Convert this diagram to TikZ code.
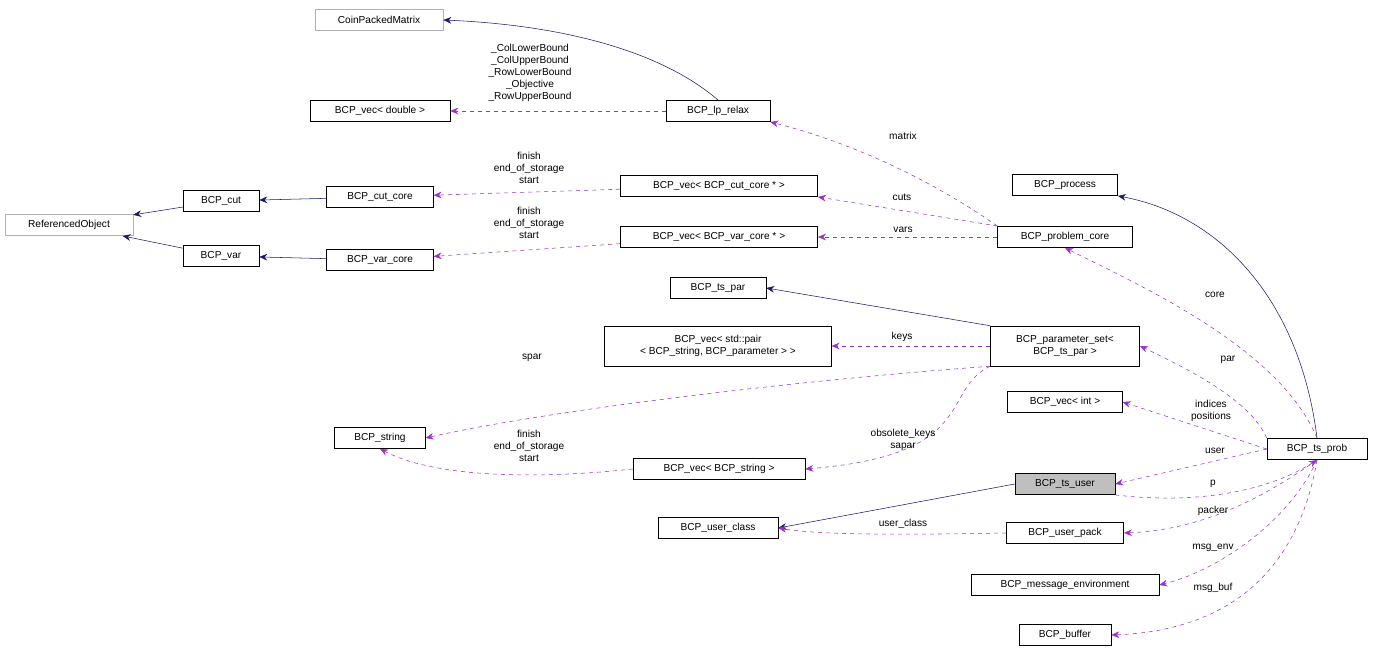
\documentclass[tikz,border=0pt]{standalone}
\usepackage{fontspec}
\setmainfont{Liberation Sans}
\usetikzlibrary{arrows.meta}
\definecolor{navyedge}{RGB}{25,25,112}
\definecolor{orchidedge}{RGB}{153,50,204}
\begin{document}
\begin{tikzpicture}
        [x=0.75pt, y=-0.75pt,
        every node/.style={font=\fontsize{7.6}{9}\selectfont},
        cls/.style={draw=black, fill=white, inner sep=2pt, minimum height=16pt, align=center},
        ext/.style={cls, draw=gray!60},
        cur/.style={cls, fill=gray!50},
        inh/.style={-{Stealth[length=6pt,width=5pt]}, navyedge},
        use/.style={-{Stealth[length=6pt,width=5pt]}, orchidedge, dashed},
        lbl/.style={align=center, inner sep=0pt}]
        \useasboundingbox (0,0) rectangle (1373,655);
        \node (CPM) at (379,20) [ext, minimum width=96pt] {CoinPackedMatrix};
        \node (VD) at (380,111) [cls, minimum width=105pt] {BCP\_vec< double >};
        \node (LP) at (718,111) [cls, minimum width=78pt] {BCP\_lp\_relax};
        \node (RO) at (69,225) [ext, minimum width=96pt] {ReferencedObject};
        \node (CUT) at (221,201) [cls, minimum width=57pt] {BCP\_cut};
        \node (VAR) at (221,256) [cls, minimum width=57pt] {BCP\_var};
        \node (CC) at (380,197) [cls, minimum width=80pt] {BCP\_cut\_core};
        \node (VC) at (380,260) [cls, minimum width=80pt] {BCP\_var\_core};
        \node (VCC) at (719,186) [cls, minimum width=148pt] {BCP\_vec< BCP\_cut\_core * >};
        \node (VVC) at (719,237) [cls, minimum width=148pt] {BCP\_vec< BCP\_var\_core * >};
        \node (PROC) at (1065,185) [cls, minimum width=79pt] {BCP\_process};
        \node (PC) at (1065,237) [cls, minimum width=101pt] {BCP\_problem\_core};
        \node (TP) at (718,288) [cls, minimum width=72pt] {BCP\_ts\_par};
        \node (VP) at (718,346) [cls, minimum width=170pt, minimum height=30pt] {BCP\_vec< std::pair\\< BCP\_string, BCP\_parameter > >};
        \node (PS) at (1065,346) [cls, minimum width=112pt, minimum height=30pt] {BCP\_parameter\_set<\\BCP\_ts\_par >};
        \node (VI) at (1065,402) [cls, minimum width=86pt] {BCP\_vec< int >};
        \node (STR) at (380,438) [cls, minimum width=68pt] {BCP\_string};
        \node (VS) at (719,469) [cls, minimum width=129pt] {BCP\_vec< BCP\_string >};
        \node (TU) at (1065,484) [cur, minimum width=75pt] {BCP\_ts\_user};
        \node (PROB) at (1317,449) [cls, minimum width=75pt] {BCP\_ts\_prob};
        \node (UC) at (718,528) [cls, minimum width=90pt] {BCP\_user\_class};
        \node (UP) at (1065,533) [cls, minimum width=88pt] {BCP\_user\_pack};
        \node (ME) at (1065,585) [cls, minimum width=141pt] {BCP\_message\_environment};
        \node (BUF) at (1065,635) [cls, minimum width=69pt] {BCP\_buffer};
        % inheritance / ownership
        \draw[inh] (LP.north) .. controls (660,50) and (560,25) .. (CPM.east);
        \draw[inh] (CUT) -- (RO);
        \draw[inh] (VAR) -- (RO);
        \draw[inh] (CC) -- (CUT);
        \draw[inh] (VC) -- (VAR);
        \draw[inh] (PROB.north) .. controls (1300,300) and (1220,215) .. (PROC.south east);
        \draw[inh] (PS.north west) -- (TP.east);
        \draw[inh] (TU.west) -- (UC.east);
        % usage
        \draw[use] (LP) -- (VD);
        \node at (530,73) [lbl] {\_ColLowerBound\\\_ColUpperBound\\\_RowLowerBound\\\_Objective\\\_RowUpperBound};
        \draw[use] (PC.north west) .. controls (960,200) and (880,150) .. (LP.south east);
        \node at (903,136) [lbl] {matrix};
        \draw[use] (VCC) -- (CC);
        \node at (529,168) [lbl] {finish\\end\_of\_storage\\start};
        \draw[use] (VVC) -- (VC);
        \node at (529,223) [lbl] {finish\\end\_of\_storage\\start};
        \draw[use] (PC) -- (VCC.south east);
        \node at (902,197) [lbl] {cuts};
        \draw[use] (PC) -- (VVC);
        \node at (903,230) [lbl] {vars};
        \draw[use] (PROB.north) .. controls (1280,350) and (1150,290) .. (PC.south);
        \node at (1215,295) [lbl] {core};
        \draw[use] (PROB.north west) .. controls (1250,400) and (1190,370) .. (PS.east);
        \node at (1228,360) [lbl] {par};
        \draw[use] (PS) -- (VP);
        \node at (902,337) [lbl] {keys};
        \draw[use] (PS.south west) .. controls (800,380) and (550,410) .. (STR.east);
        \node at (532,358) [lbl] {spar};
        \draw[use] (PS.south west) .. controls (940,390) and (980,455) .. (VS.east);
        \node at (903,440) [lbl] {obsolete\_keys\\sapar};
        \draw[use] (VS.west) .. controls (550,478) and (440,480) .. (STR.south);
        \node at (529,446) [lbl] {finish\\end\_of\_storage\\start};
        \draw[use] (PROB.west) -- (VI.east);
        \node at (1211,411) [lbl] {indices\\positions};
        \draw[use] (PROB.west) -- (TU.east);
        \node at (1215,451) [lbl] {user};
        \draw[use] (TU.south east) .. controls (1200,505) and (1270,490) .. (PROB.south);
        \node at (1213,484) [lbl] {p};
        \draw[use] (PROB.south) .. controls (1260,500) and (1200,530) .. (UP.east);
        \node at (1213,511) [lbl] {packer};
        \draw[use] (UP.west) .. controls (900,535) and (820,535) .. (UC.east);
        \node at (903,524) [lbl] {user\_class};
        \draw[use] (PROB.south) .. controls (1290,520) and (1220,570) .. (ME.east);
        \node at (1213,548) [lbl] {msg\_env};
        \draw[use] (PROB.south) .. controls (1300,560) and (1240,630) .. (BUF.east);
        \node at (1213,588) [lbl] {msg\_buf};
\end{tikzpicture}
\end{document}
